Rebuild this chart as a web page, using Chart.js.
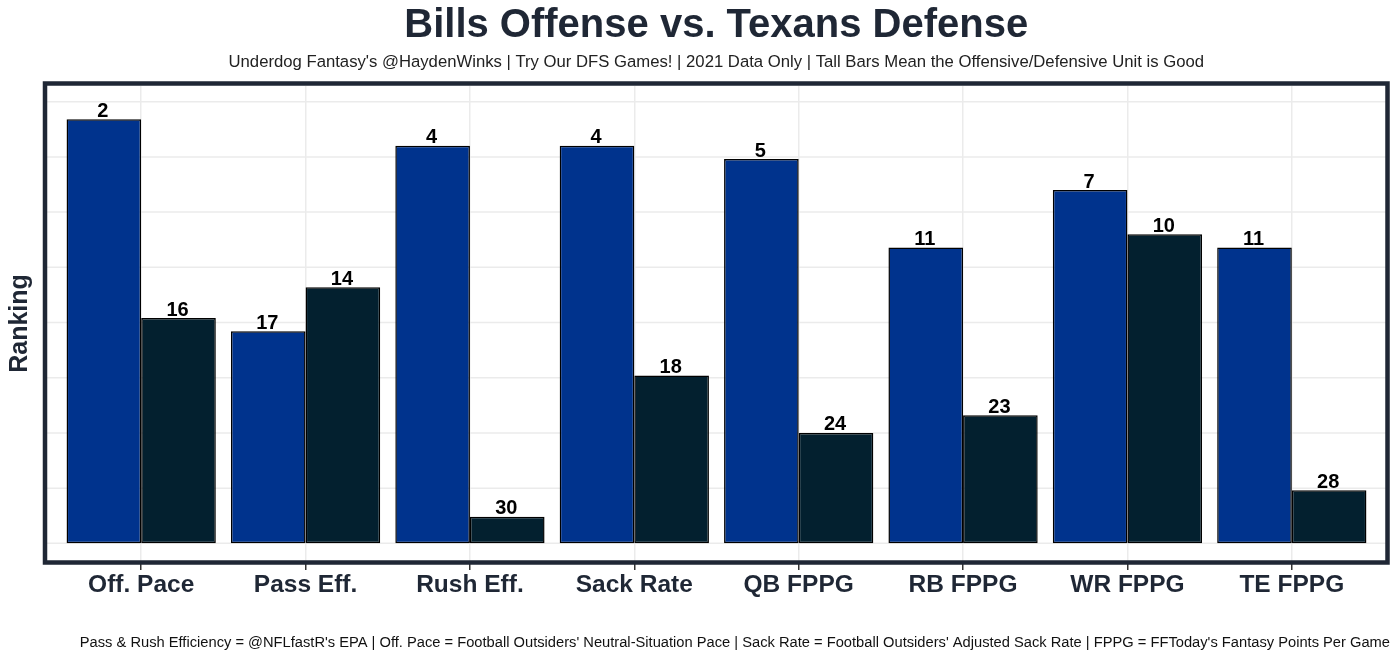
<!DOCTYPE html>
<html>
<head>
<meta charset="utf-8">
<title>Bills Offense vs. Texans Defense</title>
<script src="https://cdn.jsdelivr.net/npm/chart.js@4.4.1/dist/chart.umd.min.js"></script>
<style>
  html, body { margin: 0; padding: 0; background: #fff; }
  #chart { display: block; }
</style>
</head>
<body>
<canvas id="chart" width="1400" height="658"></canvas>
<script>
'use strict';
// ******* DATA ********
let categories = ['Off. Pace', 'Pass Eff.', 'Rush Eff.', 'Sack Rate', 'QB FPPG', 'RB FPPG', 'WR FPPG', 'TE FPPG'];
// ranks printed on top of the bars
let billsRank = [2, 17, 4, 4, 5, 11, 7, 11];
let texansRank = [16, 14, 30, 18, 24, 23, 10, 28];
// bar heights (0-100 scale)
let billsScore = [96, 48, 90, 90, 87, 67, 80, 67];
let texansScore = [51, 58, 6, 38, 25, 29, 70, 12];
// horizontal grid lines (major + minor)
let gridTicks = [0, 12.5, 25, 37.5, 50, 62.5, 75, 87.5, 100];

let titleText = 'Bills Offense vs. Texans Defense';
let subtitleText = "Underdog Fantasy's @HaydenWinks | Try Our DFS Games! | 2021 Data Only | Tall Bars Mean the Offensive/Defensive Unit is Good";
let footnote = "Pass & Rush Efficiency = @NFLfastR's EPA | Off. Pace = Football Outsiders' Neutral-Situation Pace | Sack Rate = Football Outsiders' Adjusted Sack Rate | FPPG = FFToday's Fantasy Points Per Game";

// ******* STYLE ********
const FONT = "'Liberation Sans', Arial, Helvetica, sans-serif";
const INK = '#1f2735';
const GRID = '#ebebeb';


// panel box around the chart area (the frame is a bit wider than the bars' area)
function panelBox(ca) {
  return {
    left: ca.left - 14,
    top: ca.top - 2.5,
    right: ca.right + 13.5,
    bottom: ca.bottom + 1.5
  };
}


// ******* PLUGINS ********
// background, titles, full-width horizontal grid, panel frame and footnote
let panelPlugin = {
  id: 'panel',
  beforeDraw(chart) {
    let ctx = chart.ctx;
    let p = panelBox(chart.chartArea);
    let mid = (p.left + p.right) / 2;
    ctx.save();
    ctx.fillStyle = '#ffffff';
    ctx.fillRect(0, 0, chart.width, chart.height);

    ctx.textAlign = 'center';
    ctx.textBaseline = 'alphabetic';
    ctx.fillStyle = INK;
    ctx.font = 'bold 40px ' + FONT;
    ctx.fillText(titleText, mid, 37.3);

    ctx.fillStyle = '#222222';
    ctx.font = '16.7px ' + FONT;
    ctx.fillText(subtitleText, mid, 67);
    ctx.restore();
  },
  beforeDatasetsDraw(chart) {
    let ctx = chart.ctx;
    let p = panelBox(chart.chartArea);
    let y = chart.scales.y;
    ctx.save();
    ctx.strokeStyle = GRID;
    ctx.lineWidth = 1.5;
    for (let i = 0; i < gridTicks.length; i++) {
      let py = y.getPixelForValue(gridTicks[i]);
      ctx.beginPath();
      ctx.moveTo(p.left + 1, py);
      ctx.lineTo(p.right - 1, py);
      ctx.stroke();
    }
    ctx.restore();
  },
  afterDraw(chart) {
    let ctx = chart.ctx;
    let p = panelBox(chart.chartArea);
    ctx.save();
    ctx.strokeStyle = INK;
    ctx.lineWidth = 4.5;
    ctx.strokeRect(p.left, p.top, p.right - p.left, p.bottom - p.top);

    ctx.fillStyle = '#111111';
    ctx.font = '14.7px ' + FONT;
    ctx.textAlign = 'right';
    ctx.textBaseline = 'alphabetic';
    ctx.fillText(footnote, 1390, 646.5);
    ctx.restore();
  }
};

// rank numbers above each bar
let rankLabels = {
  id: 'rankLabels',
  afterDatasetsDraw(chart) {
    let ctx = chart.ctx;
    let ranks = [billsRank, texansRank];
    ctx.save();
    ctx.fillStyle = '#000000';
    ctx.font = 'bold 20px ' + FONT;
    ctx.textAlign = 'center';
    ctx.textBaseline = 'alphabetic';
    chart.data.datasets.forEach(function (ds, di) {
      let meta = chart.getDatasetMeta(di);
      meta.data.forEach(function (bar, i) {
        ctx.fillText(String(ranks[di][i]), bar.x - 1, bar.y - 2.5);
      });
    });
    ctx.restore();
  }
};


// ******* CHART ********
let canvasElem = document.getElementById('chart');

let chartObj = {
  type: 'bar',
  data: {
    labels: categories,
    datasets: [{
      label: 'Bills Offense',
      data: billsScore,
      backgroundColor: '#00338d',
      borderColor: '#000000',
      borderWidth: 1.5,
      borderSkipped: false,
      categoryPercentage: 0.908,
      barPercentage: 1
    },
    {
      label: 'Texans Defense',
      data: texansScore,
      backgroundColor: '#03202f',
      borderColor: '#000000',
      borderWidth: 1.5,
      borderSkipped: false,
      categoryPercentage: 0.908,
      barPercentage: 1
    }]
  },
  options: {
    responsive: false,
    animation: false,
    layout: {
      padding: { left: 0, right: 26, top: 86, bottom: 0 }
    },
    plugins: {
      legend: { display: false },
      tooltip: { enabled: false },
      title: { display: false },
      subtitle: { display: false }
    },
    scales: {
      x: {
        grid: {
          offset: false,
          color: GRID,
          lineWidth: 1.5,
          tickColor: '#333333',
          tickWidth: 1.5,
          tickLength: 9
        },
        border: { display: false },
        ticks: {
          color: INK,
          padding: 1,
          maxRotation: 0,
          font: { family: FONT, size: 24.5, weight: 'bold' }
        },
        afterFit(scale) {
          scale.height = 97;
        }
      },
      y: {
        min: -4.0,
        max: 103.55,
        grid: { display: false },
        border: { display: false },
        ticks: { display: false },
        title: {
          display: true,
          text: 'Ranking',
          color: INK,
          font: { family: FONT, size: 25, weight: 'bold', lineHeight: 1.2 },
          padding: { top: 5, bottom: 0 }
        },
        afterFit(scale) {
          scale.width = 59;
        }
      }
    }
  },
  plugins: [panelPlugin, rankLabels]
};

new Chart(canvasElem, chartObj); // eslint-disable-line
</script>
</body>
</html>
